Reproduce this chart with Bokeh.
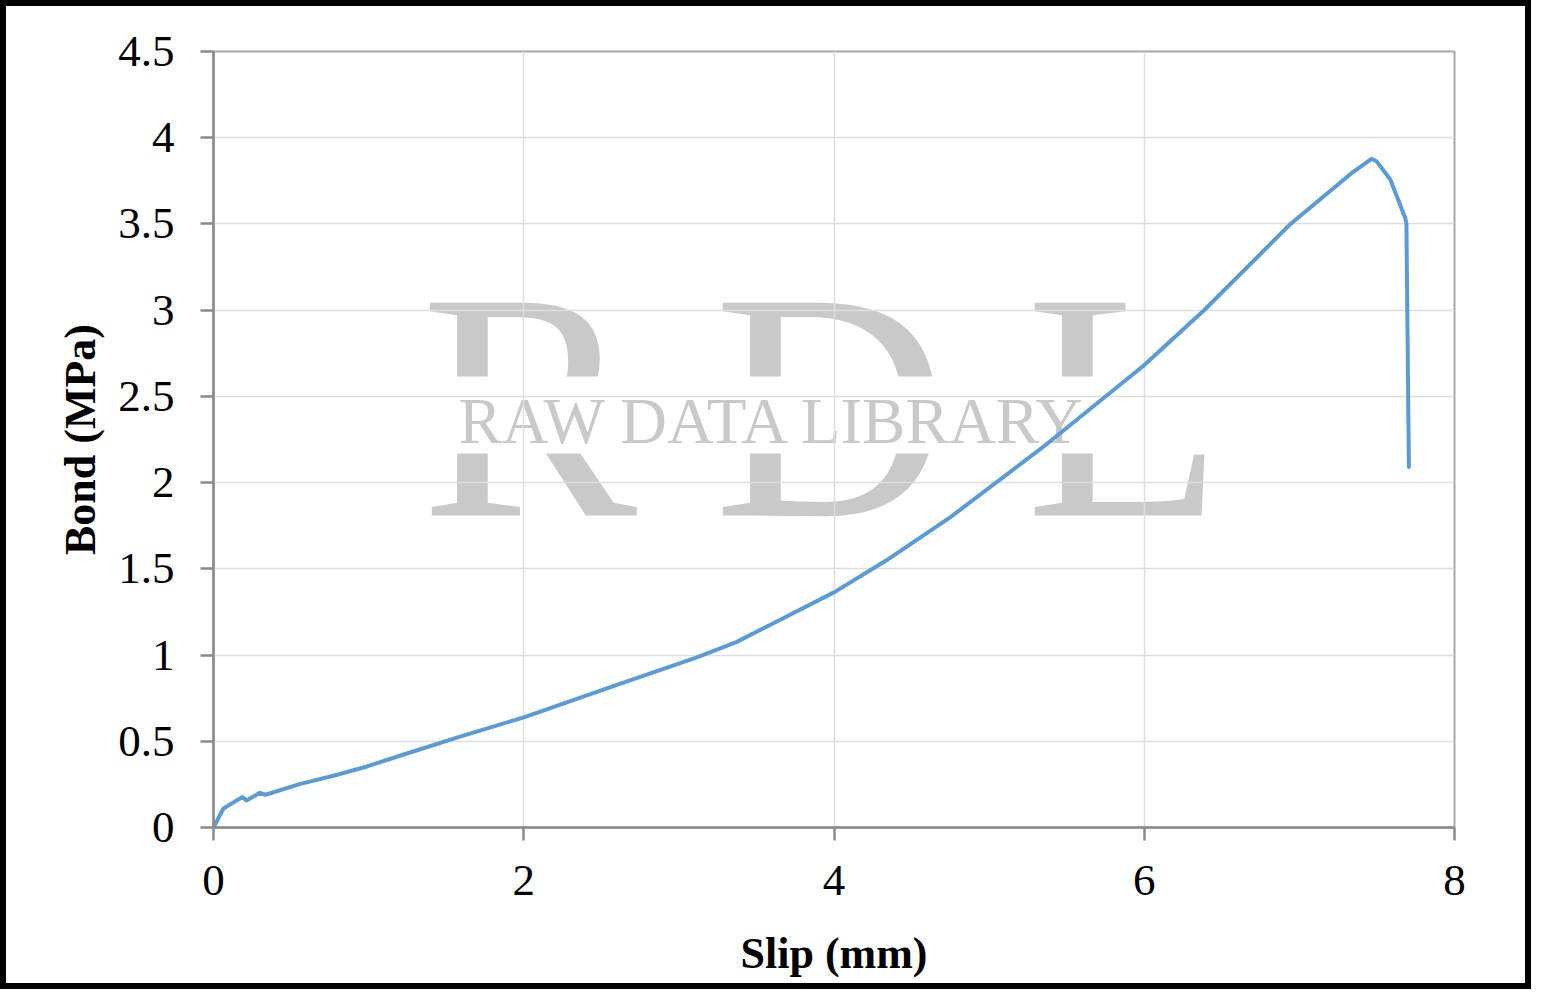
from bokeh.plotting import figure
from bokeh.models import Range1d, FixedTicker, NumeralTickFormatter, ColumnDataSource
from bokeh.core.properties import value
from bokeh.embed import file_html
from bokeh.resources import INLINE

# ---- data ----
slip = [0, 0.064, 0.185, 0.213, 0.299, 0.335, 0.561, 0.774, 0.99, 1.206, 1.6, 2.005,
        2.587, 3.116, 3.37, 3.6, 4.003, 4.336, 4.751, 5.374, 5.997, 6.384, 6.943,
        7.33, 7.465, 7.497, 7.587, 7.684, 7.69, 7.706]
bond = [0, 0.11, 0.176, 0.157, 0.201, 0.19, 0.253, 0.30, 0.354, 0.4175, 0.53, 0.64,
        0.823, 0.987, 1.075, 1.18, 1.365, 1.548, 1.80, 2.225, 2.679, 2.998, 3.50,
        3.79, 3.878, 3.864, 3.756, 3.53, 3.50, 2.09]
x_ticks = [0, 2, 4, 6, 8]
y_ticks = [0, 0.5, 1, 1.5, 2, 2.5, 3, 3.5, 4, 4.5]
x_title = "Slip (mm)"
y_title = "Bond (MPa)"

FONT = "Liberation Serif"
AXIS_COL = "#8a8a8a"
GRID_COL = "#dedede"
WM_COL = "#c9c9c9"

p = figure(width=1531, height=989, output_backend="svg", toolbar_location=None,
           x_range=Range1d(0, 8), y_range=Range1d(0, 4.5),
           min_border_left=207, min_border_right=83, min_border_top=45, min_border_bottom=168,
           background_fill_color="white", border_fill_color="white")
p.styles = {"border": "6px solid black"}

p.outline_line_color = "#a8a8a8"
p.outline_line_width = 2

# ---- watermark (decorative, below the grid) ----
big = ColumnDataSource(dict(x=[1.334, 3.223, 5.234], y=[2.447, 2.447, 2.447], t=["R", "D", "L"]))
r1 = p.text(x="x", y="y", text="t", source=big, text_font=value(FONT), text_font_size="325px",
            text_color=WM_COL, text_align="left", text_baseline="alphabetic")
r2 = p.quad(left=[1.367], right=[6.49], top=[2.615], bottom=[2.169], fill_color="white",
            line_color=None)
r3 = p.text(x=[1.579], y=[2.36], text=["RAW DATA LIBRARY"], text_font=value(FONT),
            text_font_size="65px", text_color=WM_COL, text_align="left",
            text_baseline="alphabetic")
for r in (r1, r2, r3):
    r.level = "image"

# ---- data line ----
p.line(slip, bond, line_color="#5b9bd5", line_width=4, line_join="round", line_cap="round")

# ---- axes ----
p.xaxis.ticker = FixedTicker(ticks=x_ticks)
p.yaxis.ticker = FixedTicker(ticks=y_ticks)
p.yaxis.formatter = NumeralTickFormatter(format="0.[0]")
p.xaxis.formatter = NumeralTickFormatter(format="0")
for ax in (p.xaxis, p.yaxis):
    ax.axis_line_color = AXIS_COL
    ax.axis_line_width = 2.5
    ax.major_tick_line_color = AXIS_COL
    ax.major_tick_line_width = 2.5
    ax.major_tick_out = 13
    ax.major_tick_in = 0
    ax.minor_tick_line_color = None
    ax.major_label_text_font = FONT
    ax.major_label_text_font_size = "45px"
    ax.major_label_text_color = "black"
    ax.axis_label_text_font = FONT
    ax.axis_label_text_font_size = "44px"
    ax.axis_label_text_font_style = "bold"
    ax.axis_label_text_color = "black"
p.xaxis.axis_label = x_title
p.yaxis.axis_label = y_title
p.xaxis.major_label_standoff = 25
p.yaxis.major_label_standoff = 26
p.xaxis.axis_label_standoff = 31
p.yaxis.axis_label_standoff = 10

p.xgrid.ticker = FixedTicker(ticks=x_ticks)
p.ygrid.ticker = FixedTicker(ticks=y_ticks)
p.grid.grid_line_color = GRID_COL
p.grid.grid_line_width = 1.5

open("out.html", "w").write(file_html(p, INLINE))
